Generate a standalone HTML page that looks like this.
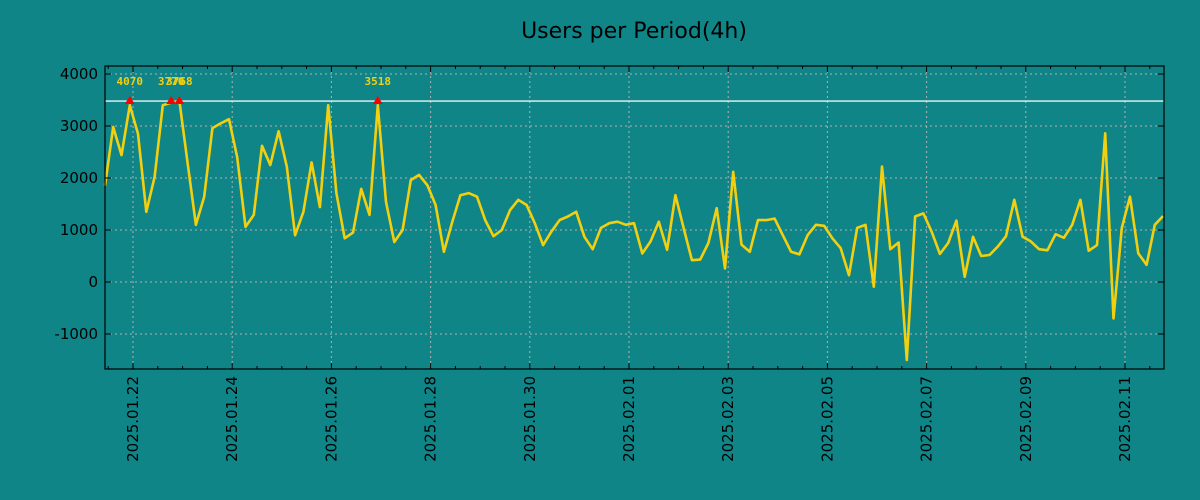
<!DOCTYPE html>
<html><head><meta charset="utf-8"><style>
html,body{margin:0;padding:0;background:#108588;}
svg{display:block;font-family:"DejaVu Sans","Liberation Sans",sans-serif;}
</style></head><body>
<svg id="chart" width="1200" height="500" viewBox="0 0 1200 500" xmlns="http://www.w3.org/2000/svg">
<rect x="0" y="0" width="1200" height="500" fill="#108588"/>
<text x="634" y="38" text-anchor="middle" font-size="22" fill="#000">Users per Period(4h)</text>
<g id="grid"></g>
<g id="series"></g>
<g id="axes"></g>
</svg>
<script>
const values = [1850,2980,2440,3400,2850,1350,2020,3400,3450,3480,2290,1100,1640,2960,3050,3130,2400,1060,1290,2620,2250,2900,2220,900,1350,2300,1440,3400,1710,840,950,1790,1290,3400,1540,770,1000,1960,2060,1860,1480,580,1150,1670,1710,1640,1190,880,1000,1380,1580,1480,1130,710,970,1190,1260,1350,870,630,1040,1130,1160,1100,1130,550,780,1160,620,1670,1040,420,430,750,1420,260,2120,720,580,1190,1190,1220,900,580,530,900,1100,1080,840,650,130,1040,1100,-90,2220,630,760,-1500,1260,1320,970,540,750,1180,100,870,500,520,680,880,1580,870,780,630,610,920,850,1100,1580,600,710,2860,-700,1040,1640,550,330,1100,1270];
const peakIdx = [3,8,9,33];
const peakLabels = ["4070","3770","3768","3518"];
const threshold = 3480;
const yTicks = [-1000,0,1000,2000,3000,4000];
const xTickLabels = ["2025.01.22","2025.01.24","2025.01.26","2025.01.28","2025.01.30","2025.02.01","2025.02.03","2025.02.05","2025.02.07","2025.02.09","2025.02.11"];
const xTickDays = [0,2,4,6,8,10,12,14,16,18,20];

const L=105,R=1164,T=66,B=369;
const NS="http://www.w3.org/2000/svg";
const y = v => 282 - v*0.052;
const xDay = d => 133 + d*49.6;            // days since 2025.01.22
const xIdx = i => xDay((i-3.39)/6);        // 4h periods
function mk(tag, attrs, parent){const e=document.createElementNS(NS,tag);for(const k in attrs)e.setAttribute(k,attrs[k]);parent.appendChild(e);return e;}
const grid=document.getElementById('grid'), ser=document.getElementById('series'), ax=document.getElementById('axes');

yTicks.forEach(v=>{
  const l=mk('line',{x1:L,x2:R,y1:y(v),y2:y(v),stroke:'#b0b0b0','stroke-width':1,'stroke-dasharray':'2,3'},grid);
  
  
});
xTickDays.forEach(d=>{
  const l=mk('line',{x1:xDay(d),x2:xDay(d),y1:T,y2:B,stroke:'#b0b0b0','stroke-width':1,'stroke-dasharray':'2,3'},grid);
  
  
});
const th=mk('line',{x1:L,x2:R,y1:y(threshold),y2:y(threshold),stroke:'#e8f8f8','stroke-width':1.3},ser);



const pts=values.map((v,i)=>xIdx(i).toFixed(1)+','+y(v).toFixed(1)).join(' ');
const pl=mk('polyline',{points:pts,fill:'none',stroke:'#f2cf0f','stroke-width':2.6,'stroke-linejoin':'round'},ser);



peakIdx.forEach((i,k)=>{
  const cx=xIdx(i), cy=y(threshold);
  const m=mk('polygon',{points:`${cx-5},${cy+3} ${cx+5},${cy+3} ${cx},${cy-5}`,fill:'#ff0000'},ser);
  
  
  const t=mk('text',{x:cx,y:cy-16,'text-anchor':'middle','font-size':11,'font-weight':'bold',fill:'#f2cf0f','font-family':'"DejaVu Sans Mono","Liberation Mono",monospace'},ser);
  t.textContent=peakLabels[k];
  
  
});

const fr=mk('rect',{x:L,y:T,width:R-L,height:B-T,fill:'none',stroke:'#000','stroke-width':1.2},ax);


yTicks.forEach(v=>{
  mk('line',{x1:L,x2:L+6,y1:y(v),y2:y(v),stroke:'#000'},ax);
  mk('line',{x1:R-6,x2:R,y1:y(v),y2:y(v),stroke:'#000'},ax);
  const t=mk('text',{x:L-7,y:y(v)+5,'text-anchor':'end','font-size':15,fill:'#000'},ax);
  t.textContent=String(v);
  
  
});
for(let d=-0.5; d<=20.8; d+=0.5){
  const xx=xDay(d); if(xx<L||xx>R) continue;
  const major = Math.abs(d/2-Math.round(d/2))<1e-6;
  const len = major?6:3;
  mk('line',{x1:xx,x2:xx,y1:B-len,y2:B,stroke:'#000'},ax);
  mk('line',{x1:xx,x2:xx,y1:T,y2:T+len,stroke:'#000'},ax);
}
xTickDays.forEach((d,k)=>{
  const xx=xDay(d)+5;
  const t=mk('text',{x:xx,y:376,transform:`rotate(-90 ${xx} 376)`,'text-anchor':'end','font-size':15,fill:'#000'},ax);
  t.textContent=xTickLabels[k];
  
  
});
</script>
</body></html>
